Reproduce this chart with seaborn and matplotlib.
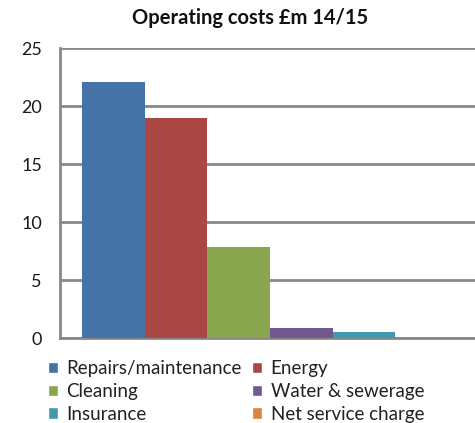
import pandas as pd
import seaborn as sns
import matplotlib.pyplot as plt
from matplotlib.patches import Patch

# Chart data
categories = ['Repairs/maintenance', 'Energy', 'Cleaning', 'Water & sewerage',
              'Insurance', 'Net service charge']
costs = [22.1, 19.0, 7.9, 0.9, 0.6, 0.02]
colors = ['#4572A7', '#AA4643', '#89A54E', '#71588F', '#4198AF', '#DB843D']
y_ticks = [0, 5, 10, 15, 20, 25]

df = pd.DataFrame({'group': ['14/15'] * len(categories),
                   'category': categories,
                   'cost': costs})

sns.set_style('white')
plt.rcParams['font.family'] = ['Lato', 'DejaVu Sans']

fig = plt.figure(figsize=(4.75, 4.23), dpi=100)
ax = fig.add_axes([0.1263, 0.1998, 0.884, 0.6856])

sns.barplot(data=df, x='group', y='cost', hue='category', hue_order=categories,
            palette=colors, saturation=1, width=0.895, ax=ax, legend=False,
            linewidth=0, zorder=3)

ax.set_xlim(-0.5, 0.5)
ax.set_ylim(0, 25)
ax.set_yticks(y_ticks)
ax.set_xticks([])
ax.set_xlabel('')
ax.set_ylabel('')
ax.yaxis.grid(True, color='#888888', linewidth=2.0, zorder=0)
ax.set_axisbelow(True)
for side in ['top', 'right']:
    ax.spines[side].set_visible(False)
for side in ['left', 'bottom']:
    ax.spines[side].set_color('#888888')
    ax.spines[side].set_linewidth(2.0)
ax.tick_params(axis='y', length=0, pad=13, labelsize=13, labelcolor='#1a1a1a')

fig.suptitle('Operating costs £m 14/15', x=0.527, y=0.982, fontsize=14.5,
             fontweight='bold', color='#111111')

# legend fills row by row like the original
order = [0, 2, 4, 1, 3, 5]
handles = [Patch(facecolor=colors[i], label=categories[i]) for i in order]
fig.legend(handles=handles, ncol=2, loc='upper left', bbox_to_anchor=(0.1, 0.148),
           frameon=False, fontsize=13.5, handlelength=0.55, handleheight=0.55,
           handletextpad=0.45, columnspacing=0.55, labelspacing=0.3,
           borderaxespad=0, borderpad=0, labelcolor='#222222')

fig.savefig('out.png', dpi=100)
